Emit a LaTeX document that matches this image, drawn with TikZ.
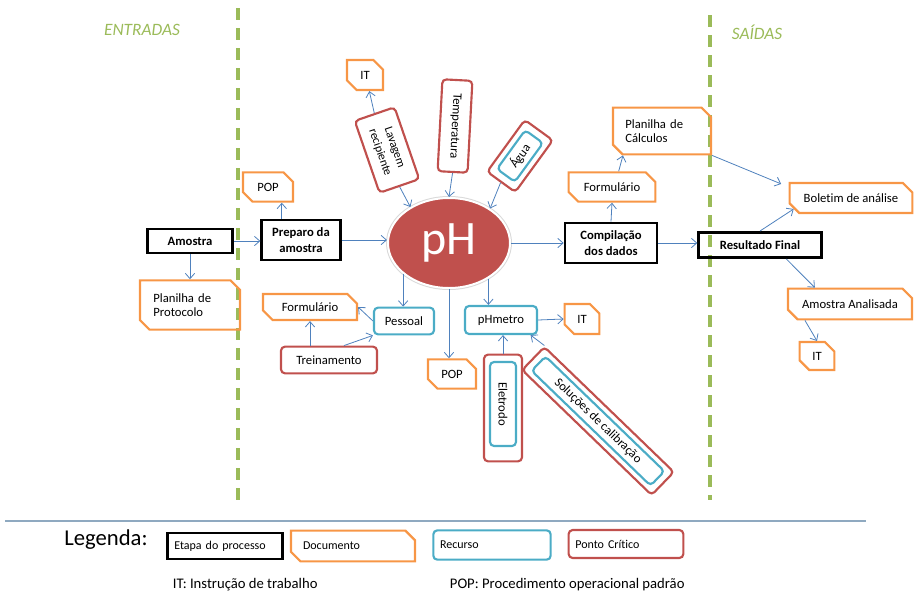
\documentclass[tikz,border=0pt]{standalone}
\usepackage{fontspec}
\setmainfont{Carlito}[Ligatures=NoCommon]
\usepackage{xcolor}
\usepackage{tikz}
\usetikzlibrary{shapes.geometric,shapes.misc,arrows.meta}

\definecolor{laranja}{HTML}{F79646}
\definecolor{vermelho}{HTML}{C0504D}
\definecolor{azulrec}{HTML}{4BACC6}
\definecolor{azulseta}{HTML}{4F81BD}
\definecolor{verde}{HTML}{9BBB59}
\definecolor{cinzaazul}{HTML}{8FA9C0}

\begin{document}
\begin{tikzpicture}[x=0.75pt, y=-0.75pt,
        every node/.style={font=\fontsize{9.5}{11}\selectfont, inner sep=2pt},
        etapa/.style={draw=black, line width=2pt, align=center, font=\fontsize{9.5}{12}\selectfont\bfseries},
        docum/.style={chamfered rectangle, chamfered rectangle corners={north east,south west},
            chamfered rectangle xsep=4pt, draw=laranja, line width=1.6pt},
        recurso/.style={draw=azulrec, line width=1.6pt, rounded corners=3pt},
        critico/.style={draw=vermelho, line width=1.6pt, rounded corners=3pt},
        seta/.style={->, >={Straight Barb[length=4pt,width=7pt]}, draw=azulseta, line width=0.6pt},
        divisa/.style={draw=verde, line width=3pt, dash pattern=on 9pt off 6pt}]
    \useasboundingbox (0,0) rectangle (914,597);

    % entradas | processo | saidas
    \draw[divisa] (238,8) -- (238,500);
    \draw[divisa] (710,15) -- (710,500);
    \node[text=verde, font=\fontsize{13}{15}\selectfont\itshape] (entradas) at (142,30) {ENTRADAS};
    \node[text=verde, font=\fontsize{13}{15}\selectfont\itshape] (saidas) at (757,32) {SAÍDAS};

    \node[etapa, minimum width=64pt, minimum height=18pt] (amostra) at (190,241) {Amostra};
    \node[docum, minimum width=75pt, minimum height=37pt, text width=55pt, align=left] (planprot) at (190,305) {Planilha de\\Protocolo};
    \node[etapa, minimum width=59pt, minimum height=30pt] (preparo) at (301,240) {Preparo da\\amostra};
    \node[docum, minimum width=37.5pt, minimum height=22pt] (pop1) at (268,187) {POP};

    \node[ellipse, fill=vermelho, preaction={draw=black!15, line width=3pt}, draw=white, line width=1.5pt,
        minimum width=91.5pt, minimum height=67.5pt, text=white, font=\fontsize{36}{36}\selectfont] (ph) at (449,243) {pH};

    % em cima do pH
    \node[docum, minimum width=27pt, minimum height=22.5pt] (ittop) at (365,75) {IT};
    \node[critico, rotate=-71, minimum width=57pt, minimum height=31.5pt, align=center,
        font=\fontsize{9}{11.5}\selectfont] (lavagem) at (387,150) {Lavagem\\recipiente};
    \node[critico, rotate=-93, minimum width=69pt, minimum height=22.5pt] (temp) at (455,126) {Temperatura};
    \node[critico, rotate=54, minimum width=48pt, minimum height=26pt] (aguaout) at (520,156) {};
    \node[recurso, rotate=54, minimum width=36pt, minimum height=16.5pt] (agua) at (520,156) {Água};

    % embaixo do pH
    \node[recurso, minimum width=45pt, minimum height=20pt] (pessoal) at (404,321) {Pessoal};
    \node[docum, minimum width=70.5pt, minimum height=19.5pt] (form1) at (310,307) {Formulário};
    \node[critico, minimum width=72pt, minimum height=20pt] (trein) at (329,360) {Treinamento};
    \node[recurso, minimum width=54pt, minimum height=21pt] (phmetro) at (501,320) {pHmetro};
    \node[docum, minimum width=26pt, minimum height=22.5pt] (itmeio) at (582,319) {IT};
    \node[docum, minimum width=36pt, minimum height=22pt] (pop2) at (452,374) {POP};
    \node[critico, rotate=-90, minimum width=80pt, minimum height=28.5pt] (eletrodoout) at (503,408) {};
    \node[recurso, rotate=-90, minimum width=63pt, minimum height=19.5pt] (eletrodo) at (503,404) {Eletrodo};
    \node[critico, rotate=-44, minimum width=135pt, minimum height=24pt] (solout) at (598,421) {};
    \node[recurso, rotate=-44, minimum width=124pt, minimum height=15pt] (sol) at (598,421) {Soluções de calibração};

    % saidas
    \node[etapa, minimum width=69pt, minimum height=30pt] (compil) at (611,243) {Compilação\\dos dados};
    \node[docum, minimum width=65pt, minimum height=22pt] (form2) at (612,187) {Formulário};
    \node[docum, minimum width=73.5pt, minimum height=35pt, text width=55pt, align=left] (plancalc) at (662,131) {Planilha de\\Cálculos};
    \node[etapa, minimum width=92pt, minimum height=19pt] (resultado) at (760,245) {Resultado Final};
    \node[docum, minimum width=92pt, minimum height=22.5pt] (boletim) at (851,198) {Boletim de análise};
    \node[docum, minimum width=93pt, minimum height=23pt] (amanal) at (850,304) {Amostra Analisada};
    \node[docum, minimum width=26pt, minimum height=21pt] (itfinal) at (817,356) {IT};

    \draw[seta] (amostra.east) -- (amostra.east -| preparo.west);
    \draw[seta] (amostra.south) -- (planprot.north);
    \draw[seta] (preparo.132) -- (preparo.132 |- pop1.south);
    \draw[seta] (preparo.east) -- (ph.west |- preparo.east);
    \draw[seta] (lavagem.west) -- (ittop.-75);
    \draw[seta] (lavagem.east) -- (ph.137);
    \draw[seta] (temp.east) -- (ph.north);
    \draw[seta] (aguaout.west) -- (ph.40);
    \draw[seta] (ph.214) -- (ph.214 |- pessoal.north);
    \draw[seta] (pessoal.west) -- (form1.east);
    \draw[seta] (form1.south |- trein.north) -- (form1.south);
    \draw[seta] (trein.44) -- (pessoal.south west);
    \draw[seta] (ph.-42) -- (ph.-42 |- phmetro.north);
    \draw[seta] (ph.south) -- (ph.south |- pop2.north);
    \draw[seta] (phmetro.east) -- (itmeio.west);
    \draw[seta] (eletrodoout.west) -- (eletrodoout.west |- phmetro.south);
    \draw[seta] (solout.north west) -- (phmetro.-27);
    \draw[seta] (ph.east) -- (compil.west);
    \draw[seta] (compil.north) -- (form2.south);
    \draw[seta] (form2.67) -- (plancalc.212);
    \draw[seta, shorten >=6pt] (plancalc.south east) -- (boletim.170);
    \draw[seta] (compil.east) -- (compil.east -| resultado.west);
    \draw[seta] (resultado.north) -- (boletim.south west);
    \draw[seta] (resultado.-28) -- (amanal.155);
    \draw[seta] (amanal.200) -- (itfinal.north);

    % legenda
    \draw[cinzaazul, line width=1pt] (5,521) -- (866,521);
    \node[font=\fontsize{17}{19}\selectfont] (legenda) at (106,540) {Legenda:};
    \node[etapa, font=\fontsize{9}{10}\selectfont, text width=76pt, align=left, inner xsep=5pt, minimum height=19.5pt] (legetapa) at (225,546) {Etapa do processo};
    \node[docum, font=\fontsize{9}{10}\selectfont, text width=75pt, align=left, inner xsep=5pt, minimum height=23pt] (legdoc) at (353,546) {Documento};
    \node[recurso, font=\fontsize{9}{10}\selectfont, text width=78pt, align=left, inner xsep=5pt, minimum height=22pt] (legrec) at (492,545) {Recurso};
    \node[critico, font=\fontsize{9}{10}\selectfont, text width=76pt, align=left, inner xsep=5pt, minimum height=21pt] (legcrit) at (626,544) {Ponto Crítico};
    \node[anchor=west, font=\fontsize{11}{13}\selectfont] (legit) at (170,585) {IT: Instrução de trabalho};
    \node[anchor=west, font=\fontsize{11}{13}\selectfont] (legpop) at (447,585) {POP: Procedimento operacional padrão};
\end{tikzpicture}
\end{document}
